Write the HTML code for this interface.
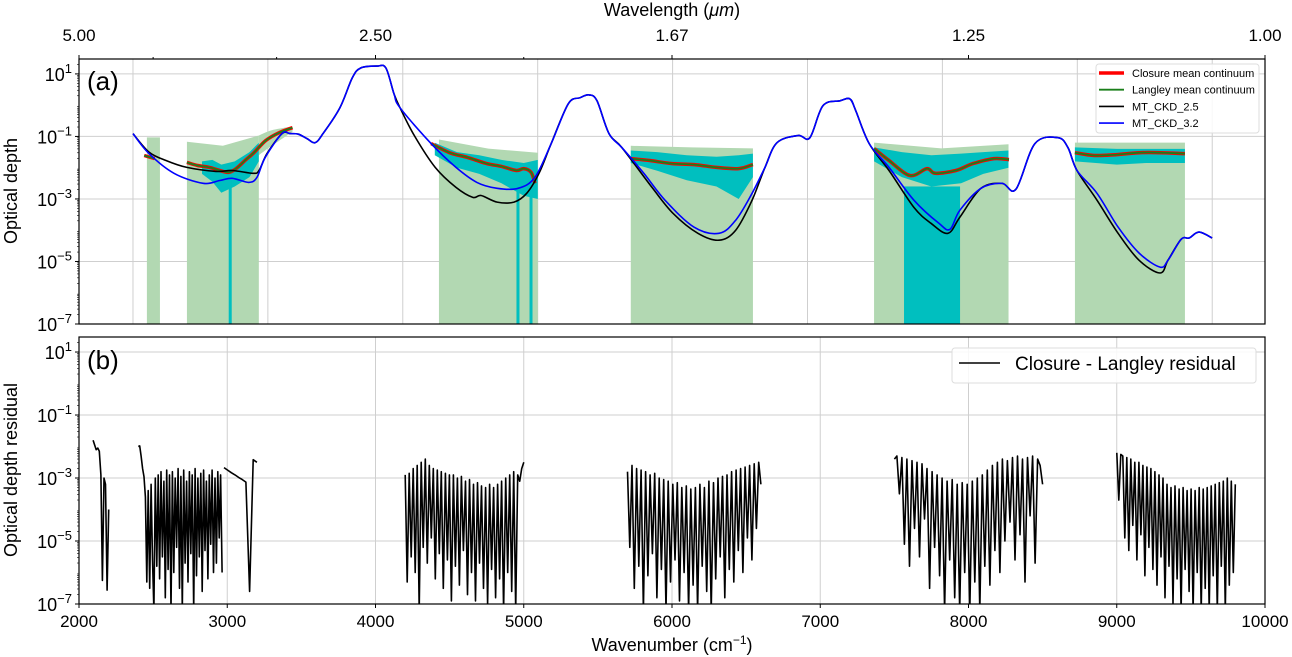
<!DOCTYPE html>
<html><head><meta charset="utf-8">
<style>
html,body{margin:0;padding:0;background:#fff;}
svg{display:block;font-family:"Liberation Sans","DejaVu Sans",sans-serif;}
</style></head>
<body>
<svg id="chart" width="1292" height="657" viewBox="0 0 1292 657" xmlns="http://www.w3.org/2000/svg">
<defs>
<clipPath id="clipTop"><rect x="79" y="59" width="1186" height="265"/></clipPath>
<clipPath id="clipBot"><rect x="79" y="337" width="1186" height="267"/></clipPath>
</defs>
</svg>
<script>
// ---------- data ----------
const ckd32Wn = [2364,2472,2641,2837,2950,3033,3145,3200,3255,3369,3423,3480,3538,3592,3646,3760,3843,3900,4010,4070,4125,4165,4375,4543,4684,4820,4962,5075,5185,5300,5380,5440,5494,5575,5663,5810,5953,6148,6317,6430,6540,6627,6708,6850,6930,7018,7133,7200,7240,7330,7464,7632,7800,7875,7942,8084,8226,8320,8448,8604,8671,8732,8867,9009,9150,9292,9346,9434,9488,9555,9643];
const ckd32Log = [-0.91,-1.55,-2.18,-2.50,-2.41,-2.34,-2.47,-2.31,-1.68,-0.91,-0.91,-0.93,-1.07,-1.2,-0.91,-0.08,0.87,1.19,1.25,1.19,0.36,-0.08,-1.23,-1.99,-2.47,-2.66,-2.66,-2.31,-1.23,0.04,0.24,0.33,0.14,-0.91,-1.36,-2.18,-3.04,-3.9,-4.1,-3.68,-2.82,-1.99,-1.2,-0.97,-1.04,-0.02,0.14,0.2,-0.18,-1.23,-1.99,-3.04,-3.78,-3.97,-3.36,-2.66,-2.5,-2.69,-1.23,-1.04,-1.36,-2.09,-2.82,-3.9,-4.73,-5.18,-4.96,-4.29,-4.25,-4.06,-4.25];
const ckd25Wn = [2364,2472,2587,2728,2924,3033,3174,3214,3268,3369,3423,3480,3538,3592,3646,3760,3843,3900,4010,4070,4125,4165,4265,4403,4543,4656,4712,4820,4934,5020,5103,5185,5300,5380,5440,5494,5575,5663,5865,6007,6175,6317,6430,6540,6627,6708,6850,6930,7018,7133,7200,7240,7330,7464,7632,7747,7861,7942,8084,8226,8320,8448,8604,8671,8732,8867,9009,9150,9292,9346,9434,9488,9555,9643];
const ckd25Log = [-0.91,-1.5,-1.77,-1.99,-2.12,-2.09,-2.18,-2.09,-1.55,-0.91,-0.91,-0.93,-1.07,-1.2,-0.91,-0.08,0.87,1.19,1.25,1.19,0.36,-0.08,-1.0,-1.99,-2.63,-2.95,-2.89,-3.1,-3.1,-2.82,-2.18,-1.23,0.04,0.24,0.33,0.14,-0.91,-1.36,-2.63,-3.46,-4.1,-4.32,-4.0,-3.04,-1.99,-1.2,-0.97,-1.04,-0.02,0.14,0.2,-0.18,-1.23,-2.09,-3.27,-3.78,-4.1,-3.58,-2.66,-2.5,-2.69,-1.23,-1.04,-1.36,-2.09,-3.04,-4.1,-4.96,-5.37,-4.96,-4.29,-4.25,-4.06,-4.25];

const langleyLo = [2458,2728,4428,5722,7363,8718];
const langleyHi = [2546,3213,5095,6546,8270,9460];
const langleyTop = [[-1.03,-1.03,-1.03],[-1.17,-1.30,-0.97],[-1.1,-1.39,-1.52],[-1.3,-1.35,-1.38],[-1.2,-1.38,-1.25],[-1.2,-1.2,-1.2]];
const tailWn = [3213,3300,3440];
const tailUp = [-0.97,-0.8,-0.68];
const tailLo = [-1.6,-1.3,-0.85];

const closureWn = [[2830,2900,2960,3050,3150,3213],[4400,4550,4700,4850,5000,5095],[5722,5900,6100,6300,6450,6546],[7363,7550,7750,7950,8100,8270],[8718,9000,9200,9460]];
const closureTop = [[-1.8,-1.75,-1.9,-1.8,-1.5,-1.2],[-1.2,-1.5,-1.6,-1.75,-1.85,-1.75],[-1.45,-1.5,-1.6,-1.65,-1.6,-1.55],[-1.35,-1.5,-1.6,-1.55,-1.5,-1.45],[-1.35,-1.4,-1.4,-1.4]];
const closureBot = [[-2.2,-2.45,-2.8,-2.6,-2.3,-1.8],[-1.6,-2.0,-2.2,-2.5,-2.9,-3.0],[-1.85,-2.1,-2.4,-2.6,-3.0,-2.3],[-1.8,-2.3,-2.6,-2.5,-2.2,-2.0],[-1.8,-1.9,-1.85,-1.85]];
const spikeWn = [3020,4961,5049];
const blockLo = [7565];
const blockHi = [7943];

const contWn = [[2440,2510],[2728,2800,2880,2950,3010,3060,3120,3180,3260,3350,3440],[4375,4500,4620,4750,4850,4950,5000,5050,5075],[5722,5850,6000,6150,6300,6450,6546],[7363,7464,7605,7720,7775,7915,8030,8172,8273],[8718,8850,9000,9150,9300,9460]];
const contLog = [[-1.61,-1.71],[-1.83,-1.93,-1.99,-2.09,-2.15,-2.03,-1.77,-1.52,-1.13,-0.88,-0.72],[-1.23,-1.52,-1.67,-1.87,-1.96,-2.09,-2.03,-2.15,-2.5],[-1.71,-1.77,-1.87,-1.9,-1.99,-2.03,-1.9],[-1.39,-1.77,-2.25,-2.03,-2.18,-2.09,-1.87,-1.71,-1.74],[-1.52,-1.61,-1.58,-1.52,-1.52,-1.55]];

const residStart = [2095,2400,2978,4200,5700,7500,9000];
const residEnd = [2200,2965,3200,5000,6600,8500,9800];
const residLog = [
[-1.8,-1.95,-2.1,-2.05,-2.15,-2.9,-6.25,-3.0,-3.2,-6.56,-4.0],
[-2.0,-1.98,-2.3,-2.7,-2.96,-3.6,-6.3,-3.4,-6.5,-3.2,-5.6,-7.2,-3.0,-5.8,-2.9,-6.2,-2.8,-5.5,-3.1,-6.8,-2.75,-5.9,-2.9,-7.2,-2.8,-6.0,-3.0,-5.2,-2.7,-6.5,-2.95,-7.2,-2.75,-5.7,-3.1,-6.3,-2.8,-5.4,-2.9,-7.2,-2.7,-6.1,-3.0,-5.5,-2.85,-6.6,-2.75,-5.3,-3.1,-6.2,-2.9,-5.1,-2.75,-6.0,-3.0,-5.7,-2.8,-4.9,-2.9,-6.0],
[-2.67,-2.75,-2.83,-2.9,-2.98,-3.05,-3.13,-6.6,-2.42,-2.5],
[-2.9,-6.3,-2.85,-5.5,-2.7,-6.0,-2.6,-7.2,-2.5,-5.2,-2.4,-5.7,-2.6,-4.9,-2.7,-6.2,-2.75,-5.4,-2.8,-6.5,-2.85,-5.6,-2.9,-6.9,-2.9,-5.8,-3.0,-6.4,-2.95,-5.3,-3.1,-6.7,-3.05,-6.0,-3.2,-6.9,-3.15,-5.7,-3.25,-6.5,-3.3,-7.0,-3.2,-5.9,-3.3,-6.8,-3.2,-6.2,-3.1,-7.2,-3.0,-6.0,-2.9,-6.6,-2.8,-7.2,-2.9,-3.1,-2.7,-2.5],
[-2.8,-5.2,-2.6,-6.5,-2.7,-5.8,-2.75,-7.2,-2.8,-6.1,-2.9,-5.4,-2.85,-6.8,-3.0,-5.9,-3.05,-7.2,-3.1,-6.3,-3.2,-5.6,-3.15,-6.9,-3.3,-6.0,-3.25,-7.2,-3.35,-6.4,-3.3,-7.2,-3.2,-5.8,-3.3,-6.6,-3.1,-7.2,-3.15,-6.2,-3.0,-5.5,-2.95,-6.8,-2.9,-5.9,-2.8,-6.3,-2.75,-5.3,-2.7,-6.0,-2.65,-4.9,-2.6,-5.6,-2.55,-4.6,-2.5,-3.2],
[-2.4,-2.3,-3.5,-2.35,-5.1,-2.4,-5.8,-2.45,-4.6,-2.5,-5.5,-2.55,-4.3,-2.7,-6.5,-2.8,-5.2,-2.9,-6.1,-3.0,-7.2,-3.1,-5.6,-3.05,-6.8,-3.2,-7.2,-3.15,-6.0,-3.2,-7.2,-3.1,-6.3,-3.0,-7.2,-2.9,-5.8,-2.75,-6.4,-2.6,-5.3,-2.5,-6.0,-2.4,-5.0,-2.45,-4.4,-2.35,-5.6,-2.3,-4.8,-2.4,-6.3,-2.35,-4.2,-2.3,-5.7,-2.4,-2.6,-3.2],
[-2.2,-3.7,-2.25,-2.3,-4.9,-2.35,-5.3,-2.4,-4.5,-2.5,-5.6,-2.5,-4.8,-2.6,-6.1,-2.65,-5.2,-2.7,-5.9,-2.8,-6.4,-2.9,-5.5,-3.0,-6.8,-3.2,-5.8,-3.3,-7.0,-3.25,-6.2,-3.35,-7.2,-3.3,-5.9,-3.4,-6.6,-3.35,-7.2,-3.4,-6.0,-3.3,-7.2,-3.35,-6.5,-3.3,-7.2,-3.25,-6.1,-3.2,-7.2,-3.15,-5.8,-3.1,-7.2,-3.0,-6.4,-3.1,-6.0,-3.2]
];

const xTicks = [2000,3000,4000,5000,6000,7000,8000,9000,10000];
const topTickWn = [2000,4000,6000,8000,10000];
const topTickLabels = ["5.00","2.50","1.67","1.25","1.00"];
const topMinorWn = [2500,3333,5000];
const topGridWn = [2364,3274,4184,5094,6004,6914,7824,8734,9644];
const yTickExp = [1,-1,-3,-5,-7];

// ---------- axes ----------
const XL=79, XR=1265, LOGMIN=-7, LOGMAX=1.477;
function X(w){return XL+(w-2000)/8000*(XR-XL);}
function YT(l){return 324-(l-LOGMIN)/(LOGMAX-LOGMIN)*265;}
function YB(l){return 604-(l-LOGMIN)/(LOGMAX-LOGMIN)*267;}
const svg=document.getElementById('chart');
const NS='http://www.w3.org/2000/svg';
function mk(tag,attrs,parent){const e=document.createElementNS(NS,tag);for(const k in attrs)e.setAttribute(k,attrs[k]);(parent||svg).appendChild(e);return e;}
function pts(xs,ys,Y){return xs.map((w,i)=>X(w).toFixed(1)+','+Y(ys[i]).toFixed(1)).join(' ');}
function smooth(xs,ys,Y){
const P=xs.map((w,i)=>[X(w),Y(ys[i])]);
let d='M'+P[0][0].toFixed(1)+','+P[0][1].toFixed(1);
for(let i=0;i<P.length-1;i++){
const p0=P[Math.max(0,i-1)],p1=P[i],p2=P[i+1],p3=P[Math.min(P.length-1,i+2)];
const c1=[p1[0]+(p2[0]-p0[0])/6,p1[1]+(p2[1]-p0[1])/6];
const c2=[p2[0]-(p3[0]-p1[0])/6,p2[1]-(p3[1]-p1[1])/6];
d+=' C'+c1[0].toFixed(1)+','+c1[1].toFixed(1)+' '+c2[0].toFixed(1)+','+c2[1].toFixed(1)+' '+p2[0].toFixed(1)+','+p2[1].toFixed(1);}
return d;}

const gTop=mk('g',{});


const gBot=mk('g',{});



// grids
topGridWn.forEach(w=>{const l=mk('line',{x1:X(w),x2:X(w),y1:59,y2:324,stroke:'#cfcfcf','stroke-width':1},gTop);

});
xTicks.forEach(w=>{const l=mk('line',{x1:X(w),x2:X(w),y1:337,y2:604,stroke:'#cfcfcf','stroke-width':1},gBot);

});
yTickExp.forEach(e=>{
const a=mk('line',{x1:XL,x2:XR,y1:YT(e),y2:YT(e),stroke:'#cfcfcf','stroke-width':1},gTop);


const b=mk('line',{x1:XL,x2:XR,y1:YB(e),y2:YB(e),stroke:'#cfcfcf','stroke-width':1},gBot);


});

// langley bands
const gData=mk('g',{'clip-path':'url(#clipTop)'},gTop);
langleyLo.forEach((lo,i)=>{
const hi=langleyHi[i], t=langleyTop[i], mid=(lo+hi)/2;
const p=mk('polygon',{points:`${X(lo)},324 ${X(lo)},${YT(t[0])} ${X(mid)},${YT(t[1])} ${X(hi)},${YT(t[2])} ${X(hi)},324`,fill:'#b2d8b2'},gData);


});
{const p=mk('path',{d:smooth(tailWn,tailUp,YT)+' L'+smooth(tailWn.slice().reverse(),tailLo.slice().reverse(),YT).slice(1)+' Z',fill:'#b2d8b2'},gData);

}
// closure bands
closureWn.forEach((ws,i)=>{
const p=mk('polygon',{points:pts(ws,closureTop[i],YT)+' '+pts(ws.slice().reverse(),closureBot[i].slice().reverse(),YT),fill:'#00bfbf'},gData);


});
spikeWn.forEach(w=>{const r=mk('rect',{x:X(w)-1.5,y:YT(-2.2),width:3,height:324-YT(-2.2),fill:'#00bfbf'},gData);

});
blockLo.forEach((lo,i)=>{const r=mk('rect',{x:X(lo),y:YT(-2.6),width:X(blockHi[i])-X(lo),height:324-YT(-2.6),fill:'#00bfbf'},gData);

});

// continuum lines
contWn.forEach((ws,i)=>{
const r=mk('path',{d:smooth(ws,contLog[i],YT),fill:'none',stroke:'#ff0000','stroke-width':3.5,'stroke-linejoin':'round'},gData);


const g=mk('path',{d:smooth(ws,contLog[i],YT),fill:'none',stroke:'#1a7f1a','stroke-width':1.8,'stroke-linejoin':'round'},gData);


});
// MT_CKD lines
{const b=mk('path',{d:smooth(ckd25Wn,ckd25Log,YT),fill:'none',stroke:'#000','stroke-width':1.6,'stroke-linejoin':'round'},gData);


const c=mk('path',{d:smooth(ckd32Wn,ckd32Log,YT),fill:'none',stroke:'#0000ff','stroke-width':1.6,'stroke-linejoin':'round'},gData);

}

// residuals
const gRes=mk('g',{'clip-path':'url(#clipBot)'},gBot);
residLog.forEach((vals,i)=>{
const n=vals.length, ws=vals.map((v,k)=>residStart[i]+(residEnd[i]-residStart[i])*k/(n-1));
const p=mk('polyline',{points:pts(ws,vals,YB),fill:'none',stroke:'#000','stroke-width':1.6,'stroke-linejoin':'round'},gRes);


});

// frames
[[59,324,gTop],[337,604,gBot]].forEach(([t,b,g])=>{
const r=mk('rect',{x:XL,y:t,width:XR-XL,height:b-t,fill:'none',stroke:'#000','stroke-width':1.2},g);


});

// y ticks
function yAxis(Y,g,name){
yTickExp.forEach(e=>{
const l=mk('line',{x1:XL-4,x2:XL,y1:Y(e),y2:Y(e),stroke:'#000'},g);


const t=mk('text',{x:XL-7,y:Y(e)+7,'text-anchor':'end','font-size':18,fill:'#000'},g);


t.innerHTML='10<tspan dy="-8" font-size="13">'+(e<0?'\u2212'+(-e):e)+'</tspan>';
});
for(let d=-7;d<1.477;d++){for(let m=2;m<10;m++){const lv=d+Math.log10(m);if(lv>LOGMAX)break;
const l=mk('line',{x1:XL-2,x2:XL,y1:Y(lv),y2:Y(lv),stroke:'#000','stroke-width':0.6},g);

}}
}
yAxis(YT,gTop,'y-axis-a');
yAxis(YB,gBot,'y-axis-b');

// bottom x ticks
xTicks.forEach(w=>{
const l=mk('line',{x1:X(w),x2:X(w),y1:604,y2:608,stroke:'#000'},gBot);


const t=mk('text',{x:X(w),y:627,'text-anchor':'middle','font-size':17},gBot);


t.textContent=w;
});
// top ticks
topTickWn.forEach((w,i)=>{
const l=mk('line',{x1:X(w),x2:X(w),y1:55,y2:59,stroke:'#000'},gTop);


const t=mk('text',{x:X(w),y:41,'text-anchor':'middle','font-size':17},gTop);


t.textContent=topTickLabels[i];
});
topMinorWn.forEach(w=>{const l=mk('line',{x1:X(w),x2:X(w),y1:57,y2:59,stroke:'#000'},gTop);

});

// titles
function txt(attrs,html,name,parent){const t=mk('text',attrs,parent);t.innerHTML=html;return t;}
txt({x:672,y:16,'text-anchor':'middle','font-size':18},'Wavelength (<tspan font-style="italic">\u03bcm</tspan>)','top-axis-title');
txt({x:672,y:651,'text-anchor':'middle','font-size':18},'Wavenumber (cm<tspan dy="-7" font-size="12">\u22121</tspan><tspan dy="7">)</tspan>','x-axis-title');
txt({x:0,y:0,'text-anchor':'middle','font-size':18,transform:'translate(17,191) rotate(-90)'},'Optical depth','y-axis-a-title');
txt({x:0,y:0,'text-anchor':'middle','font-size':18,transform:'translate(17,470) rotate(-90)'},'Optical depth residual','y-axis-b-title');
txt({x:87,y:90,'font-size':26},'(a)','panel-a-label');
txt({x:87,y:369,'font-size':26},'(b)','panel-b-label');

// legend a
const legA=mk('g',{});


{const r=mk('rect',{x:1096,y:64,width:163,height:69,rx:3,fill:'#fff','fill-opacity':0.85,stroke:'#ddd'},legA);

}
const legNames=['Closure mean continuum','Langley mean continuum','MT_CKD_2.5','MT_CKD_3.2'];
const legColors=['#ff0000','#1a7f1a','#000000','#0000ff'];
const legWidths=[3.5,1.8,1.6,1.6];
legNames.forEach((n,i)=>{const y=73+i*16.7;
const l=mk('line',{x1:1099,x2:1124,y1:y,y2:y,stroke:legColors[i],'stroke-width':legWidths[i]},legA);


const t=mk('text',{x:1132,y:y+4,'font-size':11},legA);


t.textContent=n;});
// legend b
const legB=mk('g',{});


{const r=mk('rect',{x:952,y:348,width:304,height:35,rx:3,fill:'#fff','fill-opacity':0.85,stroke:'#ddd'},legB);


const l=mk('line',{x1:959,x2:1000,y1:363,y2:363,stroke:'#000','stroke-width':1.6},legB);


const t=mk('text',{x:1015,y:370,'font-size':19},legB);


t.textContent='Closure - Langley residual';}
</script>
</body></html>
